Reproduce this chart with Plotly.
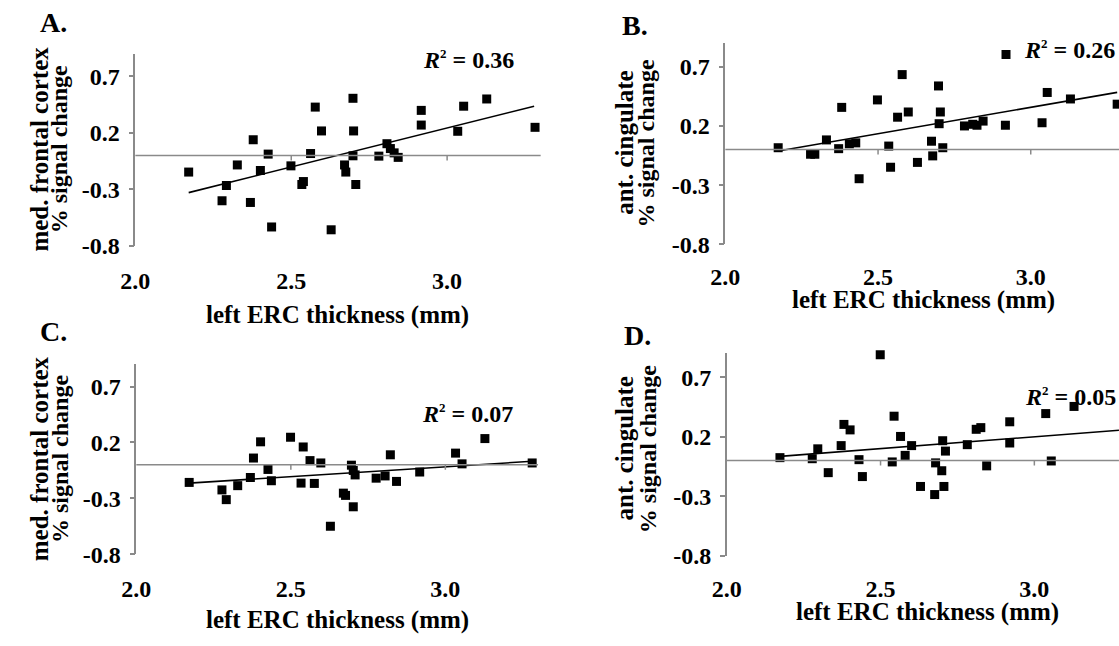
import plotly.graph_objects as go

W, H = 1119, 646
FONT = "Liberation Serif"

# ---------------- data ----------------
x_tickvals = [2.0, 2.5, 3.0]
x_ticktext = ["2.0", "2.5", "3.0"]
y_tickvals = [-0.8, -0.3, 0.2, 0.7]
y_ticktext = ["-0.8", "-0.3", "0.2", "0.7"]

a_x = [2.171, 2.292, 2.278, 2.327, 2.378, 2.369, 2.401, 2.426, 2.437, 2.499, 2.534, 2.539, 2.562, 2.577,
       2.597, 2.628, 2.671, 2.675, 2.698, 2.700, 2.698, 2.707, 2.781, 2.807, 2.818, 2.830, 2.843, 2.917,
       2.917, 3.034, 3.053, 3.127, 3.282]
a_y = [-0.146, -0.265, -0.40, -0.083, 0.14, -0.415, -0.132, 0.013, -0.632, -0.091, -0.256, -0.23, 0.018,
       0.429, 0.218, -0.657, -0.083, -0.146, 0.507, 0.218, -0.002, -0.256, -0.005, 0.105, 0.062, 0.024,
       -0.016, 0.40, 0.27, 0.215, 0.437, 0.501, 0.25]
a_fit_x = [2.171, 3.279]
a_fit_y = [-0.328, 0.437]

b_x = [2.173, 2.279, 2.293, 2.331, 2.371, 2.381, 2.406, 2.427, 2.438, 2.498, 2.535, 2.541, 2.564, 2.579,
       2.599, 2.629, 2.675, 2.679, 2.698, 2.704, 2.700, 2.712, 2.783, 2.810, 2.824, 2.844, 2.919, 2.917,
       3.037, 3.054, 3.130, 3.283]
b_y = [0.016, -0.039, -0.039, 0.082, 0.008, 0.357, 0.049, 0.057, -0.246, 0.42, 0.03, -0.149, 0.274, 0.634,
       0.318, -0.108, 0.071, -0.053, 0.538, 0.318, 0.219, 0.016, 0.2, 0.214, 0.206, 0.241, 0.804, 0.206,
       0.227, 0.483, 0.428, 0.384]
b_fit_x = [2.173, 3.283]
b_fit_y = [-0.012, 0.484]

c_x = [2.171, 2.277, 2.291, 2.328, 2.369, 2.379, 2.402, 2.426, 2.437, 2.499, 2.533, 2.540, 2.562, 2.576,
       2.597, 2.628, 2.670, 2.677, 2.696, 2.702, 2.708, 2.702, 2.776, 2.805, 2.822, 2.842, 2.917, 3.033,
       3.054, 3.128, 3.281]
c_y = [-0.157, -0.224, -0.311, -0.186, -0.113, 0.061, 0.206, -0.041, -0.142, 0.247, -0.163, 0.16, 0.038,
       -0.166, 0.017, -0.549, -0.253, -0.273, -0.003, -0.05, -0.09, -0.375, -0.119, -0.099, 0.09, -0.148,
       -0.064, 0.105, 0.009, 0.235, 0.017]
c_fit_x = [2.171, 3.281]
c_fit_y = [-0.163, 0.032]

d_x = [2.173, 2.278, 2.296, 2.330, 2.372, 2.381, 2.401, 2.430, 2.441, 2.499, 2.538, 2.544, 2.565, 2.580,
       2.601, 2.630, 2.676, 2.679, 2.699, 2.702, 2.706, 2.711, 2.782, 2.811, 2.826, 2.845, 2.920, 2.920,
       3.037, 3.055, 3.129, 3.278]
d_y = [0.025, 0.016, 0.099, -0.101, 0.126, 0.304, 0.258, 0.008, -0.134, 0.889, -0.011, 0.373, 0.203, 0.044,
       0.126, -0.217, -0.285, -0.019, -0.085, 0.167, -0.217, 0.08, 0.134, 0.263, 0.277, -0.044, 0.326, 0.148,
       0.395, -0.003, 0.455, 0.304]
d_fit_x = [2.173, 3.278]
d_fit_y = [0.036, 0.255]

labels = ["A.", "B.", "C.", "D."]
r2_text = ["0.36", "0.26", "0.07", "0.05"]
ytitle1 = ["med. frontal cortex", "ant. cingulate", "med. frontal cortex", "ant. cingulate"]
ytitle2 = "% signal change"
xtitle = "left ERC thickness (mm)"
y_range = [-0.8, 0.9]
x_max = [3.3, 3.289, 3.3, 3.275]

# ---------------- layout geometry (pixels) ----------------
geom = [
    dict(left=122, ppu=316.0, top=55, bottom=251, tl=13),
    dict(left=720, ppu=309.6, top=44, bottom=249.3, tl=11),
    dict(left=123, ppu=313.2, top=371.7, bottom=565.7, tl=13),
    dict(left=721.4, ppu=311.8, top=360.7, bottom=567.3, tl=11),
]
label_pos = [(39, 23), (628, 26), (39, 338), (631, 342)]
r2_pos = [(508, 60.5, "right"), (1117, 50.5, "right"), (507, 421.7, "right"), (1118, 405, "right")]
yt1_pos = [(25, 152), (617, 146), (25, 468), (618, 458)]
yt2_pos = [(45, 152), (640, 146), (45, 468), (641, 458)]
xt_pos = [(326.8, 321), (920.5, 306), (326.5, 633), (924.5, 625)]


def px(x):
    return x / W


def py(y):
    return 1 - y / H


fig = go.Figure()
data = [(a_x, a_y, a_fit_x, a_fit_y), (b_x, b_y, b_fit_x, b_fit_y),
        (c_x, c_y, c_fit_x, c_fit_y), (d_x, d_y, d_fit_x, d_fit_y)]

grey = "#8a8a8a"
tickfont = dict(family=FONT, size=24, color="black", weight="bold")
shapes = []
annotations = []

for i, (xs, ys, fx, fy) in enumerate(data):
    sfx = "" if i == 0 else str(i + 1)
    xa, ya = "x" + sfx, "y" + sfx
    g = geom[i]
    right = min(g["left"] + (x_max[i] - 2.0) * g["ppu"], W)
    fig.add_trace(go.Scatter(x=fx, y=fy, mode="lines", xaxis=xa, yaxis=ya,
                             line=dict(color="black", width=1.6), hoverinfo="skip"))
    fig.add_trace(go.Scatter(x=xs, y=ys, mode="markers", xaxis=xa, yaxis=ya, cliponaxis=False,
                             marker=dict(symbol="square", size=9, color="black",
                                         line=dict(width=0))))
    fig.layout["xaxis" + sfx] = dict(
        domain=[px(g["left"]), px(right)], range=[2.0, x_max[i]], anchor=ya,
        showline=False, showgrid=False, zeroline=False,
        tickvals=x_tickvals, ticktext=x_ticktext, ticks="outside", ticklen=g["tl"],
        tickcolor="rgba(0,0,0,0)", tickfont=tickfont)
    fig.layout["yaxis" + sfx] = dict(
        domain=[py(g["bottom"]), py(g["top"])], range=y_range, anchor=xa,
        showline=True, linecolor=grey, linewidth=1.5, showgrid=False, zeroline=False,
        tickvals=y_tickvals, ticktext=y_ticktext, ticks="outside", ticklen=5,
        tickcolor=grey, tickwidth=1.5, tickfont=tickfont, ticklabelstandoff=4)
    # horizontal zero line with small ticks
    shapes.append(dict(type="line", xref=xa + " domain", yref=ya, x0=0, x1=1, y0=0, y1=0,
                       line=dict(color=grey, width=1.5)))
    for tv in x_tickvals[1:]:
        shapes.append(dict(type="line", xref=xa, yref=ya, ysizemode="pixel", yanchor=0,
                           x0=tv, x1=tv, y0=0, y1=-5, line=dict(color=grey, width=1.5)))
    # texts
    annotations.append(dict(text="<b>%s</b>" % labels[i], x=px(label_pos[i][0]), y=py(label_pos[i][1]),
                            xref="paper", yref="paper", showarrow=False, xanchor="center", yanchor="middle",
                            font=dict(family=FONT, size=28, color="black")))
    rx, ry, ranch = r2_pos[i]
    annotations.append(dict(text="<b><i>R</i><sup><span style=\"font-size:13px\">2</span></sup> = %s</b>" % r2_text[i],
                            x=px(rx), y=py(ry), xref="paper", yref="paper",
                            showarrow=False, xanchor=ranch, yanchor="middle",
                            font=dict(family=FONT, size=24, color="black")))
    annotations.append(dict(text="<b>%s</b>" % ytitle1[i], x=px(yt1_pos[i][0]), y=py(yt1_pos[i][1]),
                            xref="paper", yref="paper", showarrow=False, textangle=-90,
                            xanchor="center", yanchor="middle",
                            font=dict(family=FONT, size=25, color="black")))
    annotations.append(dict(text="<b>%s</b>" % ytitle2, x=px(yt2_pos[i][0]), y=py(yt2_pos[i][1]),
                            xref="paper", yref="paper", showarrow=False, textangle=-90,
                            xanchor="center", yanchor="middle",
                            font=dict(family=FONT, size=24, color="black")))
    annotations.append(dict(text="<b>%s</b>" % xtitle, x=px(xt_pos[i][0]), y=py(xt_pos[i][1]),
                            xref="paper", yref="paper", showarrow=False, xanchor="center", yanchor="middle",
                            font=dict(family=FONT, size=25, color="black")))

fig.update_layout(width=W, height=H, margin=dict(l=0, r=0, t=0, b=0),
                  paper_bgcolor="white", plot_bgcolor="white", showlegend=False,
                  shapes=shapes, annotations=annotations)
fig.write_html("out.html", config={"displayModeBar": False},
               post_script="document.body.style.margin='0';document.body.style.overflow='hidden';")
